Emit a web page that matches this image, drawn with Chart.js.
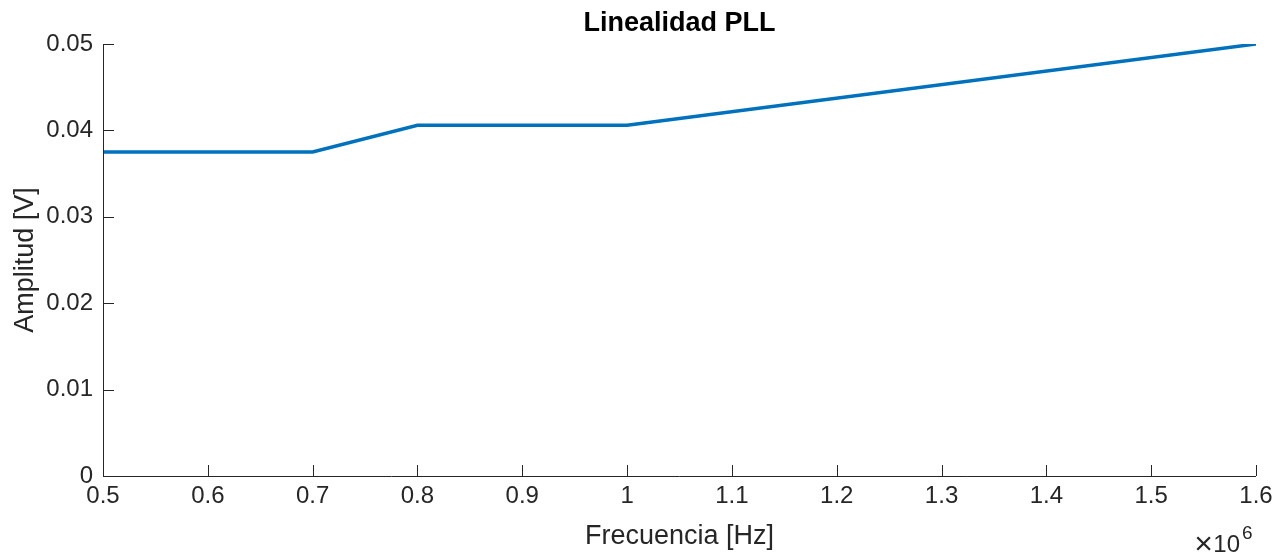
<!DOCTYPE html>
<html>
<head>
<meta charset="utf-8">
<script src="https://cdn.jsdelivr.net/npm/chart.js@4/dist/chart.umd.min.js"></script>
<style>
  html, body { margin: 0; padding: 0; background: #fff; }
  #wrap { width: 1286px; height: 556px; }
</style>
</head>
<body>
<div id="wrap"><canvas id="pllChart"></canvas></div>
<script>
// frecuencia en unidades de 1e6 Hz
const frecuencia = [0.5, 0.7, 0.8, 1.0, 1.6];
const amplitud = [0.0375, 0.0375, 0.0406, 0.0406, 0.0500];
const xTicks = [0.5, 0.6, 0.7, 0.8, 0.9, 1, 1.1, 1.2, 1.3, 1.4, 1.5, 1.6];
const yTicks = [0, 0.01, 0.02, 0.03, 0.04, 0.05];

const axisColor = '#262626';
const fontFam = '"Liberation Sans", Arial, Helvetica, sans-serif';

// ticks hacia dentro, estilo matlab
const innerTicks = {
  id: 'innerTicks',
  afterDraw(chart) {
    const { ctx, chartArea, scales } = chart;
    ctx.save();
    ctx.strokeStyle = axisColor;
    ctx.lineWidth = 1;
    ctx.beginPath();
    xTicks.forEach(v => {
      const px = Math.round(scales.x.getPixelForValue(v)) + 0.5;
      ctx.moveTo(px, chartArea.bottom);
      ctx.lineTo(px, chartArea.bottom - 11);
    });
    yTicks.forEach(v => {
      const py = Math.round(scales.y.getPixelForValue(v)) + 0.5;
      ctx.moveTo(chartArea.left, py);
      ctx.lineTo(chartArea.left + 11, py);
    });
    // ejes
    ctx.moveTo(chartArea.left + 0.5, chartArea.top);
    ctx.lineTo(chartArea.left + 0.5, chartArea.bottom + 0.5);
    ctx.lineTo(chartArea.right, chartArea.bottom + 0.5);
    ctx.stroke();

    // titulo
    const cx = (chartArea.left + chartArea.right) / 2;
    ctx.fillStyle = '#000';
    ctx.font = 'bold 27px ' + fontFam;
    ctx.textAlign = 'center';
    ctx.textBaseline = 'middle';
    ctx.fillText('Linealidad PLL', cx, 24);

    // exponente
    ctx.fillStyle = axisColor;
    ctx.font = '24px ' + fontFam;
    ctx.textAlign = 'right';
    ctx.textBaseline = 'alphabetic';
    ctx.fillText('10', 1240, 552);
    ctx.font = '32px ' + fontFam;
    ctx.fillText('\u00d7', 1213, 554);
    ctx.font = '19px ' + fontFam;
    ctx.textAlign = 'left';
    ctx.fillText('6', 1242, 539);
    ctx.restore();
  }
};

const ctx = document.getElementById('pllChart').getContext('2d');
new Chart(ctx, {
  type: 'line',
  data: {
    datasets: [{
      data: frecuencia.map((f, i) => ({ x: f, y: amplitud[i] })),
      borderColor: '#0072BD',
      borderWidth: 3.5,
      pointRadius: 0,
      tension: 0,
      fill: false
    }]
  },
  options: {
    responsive: true,
    maintainAspectRatio: false,
    animation: false,
    layout: { padding: { left: 0, right: 30, top: 44, bottom: 0 } },
    plugins: { legend: { display: false }, tooltip: { enabled: false } },
    scales: {
      x: {
        type: 'linear',
        min: 0.5,
        max: 1.6,
        afterFit(scale) { scale.height = 80; },
        afterBuildTicks(scale) { scale.ticks = xTicks.map(v => ({ value: v })); },
        grid: { display: false, drawTicks: false },
        border: { display: false },
        ticks: {
          color: axisColor,
          font: { family: fontFam, size: 24 },
          padding: 6,
          maxRotation: 0,
          autoSkip: false,
          callback: v => String(Math.round(v * 10) / 10)
        },
        title: {
          display: true,
          text: 'Frecuencia [Hz]',
          color: axisColor,
          font: { family: fontFam, size: 27 },
          padding: { top: 0, bottom: 3 }
        }
      },
      y: {
        type: 'linear',
        min: 0,
        max: 0.05,
        afterFit(scale) { scale.width = 103; },
        afterBuildTicks(scale) { scale.ticks = yTicks.map(v => ({ value: v })); },
        grid: { display: false, drawTicks: false },
        border: { display: false },
        ticks: {
          color: axisColor,
          font: { family: fontFam, size: 24 },
          padding: 10,
          autoSkip: false,
          callback: v => String(Math.round(v * 100) / 100)
        },
        title: {
          display: true,
          text: 'Amplitud [V]',
          color: axisColor,
          font: { family: fontFam, size: 27 },
          padding: { top: 9, bottom: 0 }
        }
      }
    }
  },
  plugins: [innerTicks]
});
</script>
</body>
</html>
